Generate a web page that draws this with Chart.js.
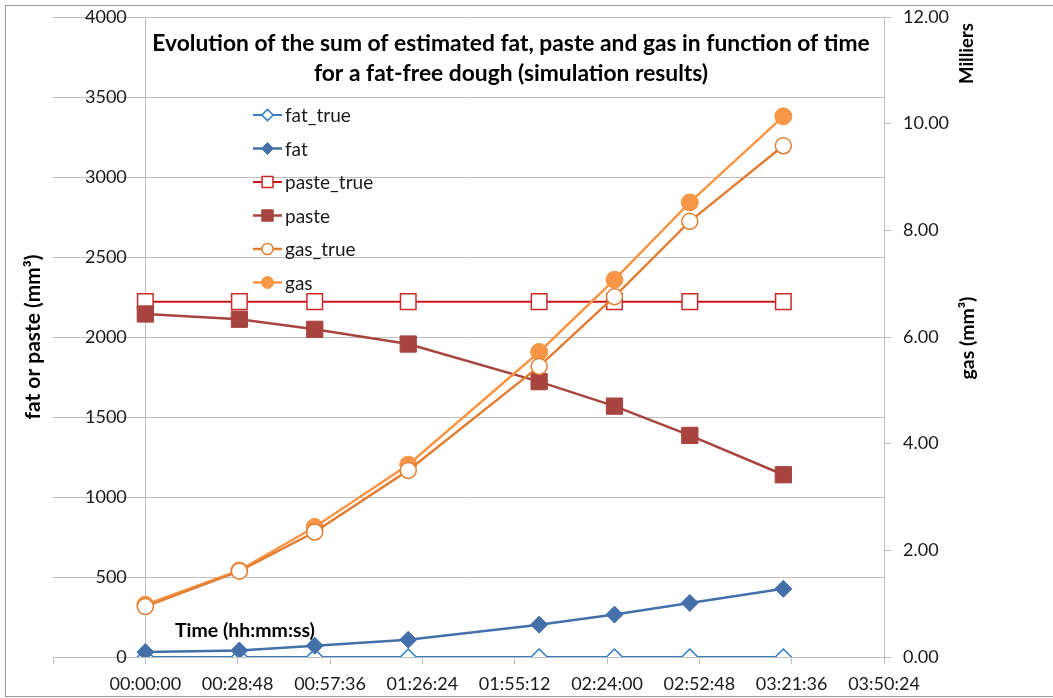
<!DOCTYPE html>
<html><head><meta charset="utf-8">
<script src="https://cdn.jsdelivr.net/npm/chart.js@4.4.1/dist/chart.umd.min.js"></script>
<style>
html,body{margin:0;padding:0;background:#fff;overflow:hidden}
#wrap{position:relative;width:1053px;height:698px}
#frame{position:absolute;left:5px;top:5px;width:1100px;height:690px;border-top:1px solid #9a9a9a;border-left:1px solid #9a9a9a;border-bottom:1px solid #9a9a9a;pointer-events:none}
</style></head><body>
<div id="wrap"><canvas id="c"></canvas><div id="frame"></div></div>
<script>
// ---- data (time in seconds) ----
const timeSeconds = [0, 1760, 3170, 4920, 7370, 8780, 10190, 11940];
const fatTrue   = [0, 0, 0, 0, 0, 0, 0, 0];
const fat       = [31, 41, 71, 108, 202, 265, 338, 426];
const pasteTrue = [2221, 2221, 2221, 2221, 2221, 2221, 2221, 2221];
const paste     = [2144, 2111, 2048, 1956, 1721, 1568, 1385, 1139];
const gasTrue   = [945, 1610, 2344, 3499, 5449, 6756, 8168, 9587];
const gas       = [981, 1624, 2438, 3606, 5719, 7075, 8524, 10137];
const seriesNames = ['fat_true', 'fat', 'paste_true', 'paste', 'gas_true', 'gas'];

// axes
const xMin = -1728, xMax = 13824, xStep = 1728;
const leftMin = 0, leftMax = 4000, leftStep = 500;
const rightMin = 0, rightMax = 12000, rightStep = 2000;

const titleLines = ['Evolution of the sum of estimated fat, paste and gas in function of time',
                    'for a fat-free dough (simulation results)'];
const leftTitle = 'fat or paste (mm\u00B3)';
const rightTitle = 'gas (mm\u00B3)';
const unitsLabel = 'Milliers';
const xTitle = 'Time (hh:mm:ss)';

function fmtTime(s){
  const h = Math.floor(s/3600), m = Math.floor((s%3600)/60), sec = Math.round(s%60);
  const p = n => String(n).padStart(2,'0');
  return p(h)+':'+p(m)+':'+p(sec);
}
const pts = arr => arr.map((v,i)=>({x: timeSeconds[i], y: v}));

const FONT = 'Lato';
const TXT = '#1a1a1a';
const GRID = '#bfbfbf';

const overlay = {
  id: 'overlay',
  afterDraw(chart){
    const ctx = chart.ctx;
    ctx.save();
    ctx.fillStyle = '#000';
    function sizeFor(text, target, weight){
      ctx.font = weight + ' 20px ' + FONT;
      return 20 * target / ctx.measureText(text).width;
    }
    // main title
    const ts = sizeFor(titleLines[0], 718, 'bold');
    ctx.font = 'bold ' + ts + 'px ' + FONT;
    ctx.textAlign = 'center'; ctx.textBaseline = 'alphabetic';
    ctx.fillText(titleLines[0], 511, 50.5);
    ctx.fillText(titleLines[1], 511, 81);
    // left axis title
    let s = sizeFor(leftTitle, 165, 'bold');
    ctx.font = 'bold ' + s + 'px ' + FONT;
    ctx.save(); ctx.translate(33, 337); ctx.rotate(-Math.PI/2);
    ctx.textBaseline = 'middle'; ctx.fillText(leftTitle, 0, 0); ctx.restore();
    // right axis title
    s = sizeFor(rightTitle, 83, 'bold');
    ctx.font = 'bold ' + s + 'px ' + FONT;
    ctx.save(); ctx.translate(968, 338); ctx.rotate(-Math.PI/2);
    ctx.textBaseline = 'middle'; ctx.fillText(rightTitle, 0, 0); ctx.restore();
    // units label
    s = sizeFor(unitsLabel, 61, 'bold');
    ctx.font = 'bold ' + s + 'px ' + FONT;
    ctx.save(); ctx.translate(967, 53.5); ctx.rotate(-Math.PI/2);
    ctx.textBaseline = 'middle'; ctx.fillText(unitsLabel, 0, 0); ctx.restore();
    // x title
    s = sizeFor(xTitle, 140, 'bold');
    ctx.font = 'bold ' + s + 'px ' + FONT;
    ctx.textAlign = 'left'; ctx.textBaseline = 'alphabetic';
    ctx.fillText(xTitle, 175, 637);
    // legend
    const ds = chart.data.datasets;
    ctx.font = '19px ' + FONT;
    ctx.textBaseline = 'middle';
    for (let i = 0; i < ds.length; i++){
      const d = ds[i];
      const y = 115 + i * 33.5;
      ctx.strokeStyle = d.borderColor; ctx.lineWidth = d.borderWidth;
      ctx.beginPath(); ctx.moveTo(253, y); ctx.lineTo(282, y); ctx.stroke();
      ctx.fillStyle = d.pointBackgroundColor; ctx.strokeStyle = d.pointBorderColor;
      ctx.lineWidth = d.pointBorderWidth;
      Chart.helpers.drawPoint(ctx, {pointStyle: d.pointStyle, radius: d.pointRadius * 0.7,
        rotation: 0, borderWidth: d.pointBorderWidth}, 267.5, y);
      ctx.fillStyle = TXT;
      ctx.textAlign = 'left';
      ctx.fillText(d.label, 285, y + 1);
    }
    ctx.restore();
  }
};

const cBlueL = '#3a7dc2', cBlue = '#4470aa', cRedL = '#c8161b', cRed = '#a8443f', cOrD = '#e07f35', cOr = '#f79646';

new Chart(document.getElementById('c'), {
  type: 'line',
  data: {
    datasets: [
      {label: seriesNames[0], data: pts(fatTrue), yAxisID:'y', order: 6, borderColor: cBlueL, borderWidth: 2,
       pointStyle:'rectRot', pointRadius: 8, pointBackgroundColor:'#fff', pointBorderColor: '#2f7cc4', pointBorderWidth: 1.5},
      {label: seriesNames[1], data: pts(fat), yAxisID:'y', order: 5, borderColor: cBlue, borderWidth: 2.5,
       pointStyle:'rectRot', pointRadius: 8.5, pointBackgroundColor: cBlue, pointBorderColor: cBlue, pointBorderWidth: 1},
      {label: seriesNames[2], data: pts(pasteTrue), yAxisID:'y', order: 4, borderColor: cRedL, borderWidth: 2,
       pointStyle:'rect', pointRadius: 11, pointBackgroundColor:'#fff', pointBorderColor: '#cc2a2a', pointBorderWidth: 1.5},
      {label: seriesNames[3], data: pts(paste), yAxisID:'y', order: 3, borderColor: cRed, borderWidth: 2.5,
       pointStyle:'rect', pointRadius: 11.5, pointBackgroundColor: cRed, pointBorderColor: cRed, pointBorderWidth: 1},
      {label: seriesNames[4], data: pts(gasTrue), yAxisID:'y1', order: 1, borderColor: cOrD, borderWidth: 2.5,
       pointStyle:'circle', pointRadius: 8, pointBackgroundColor:'#fff', pointBorderColor: cOrD, pointBorderWidth: 1.5},
      {label: seriesNames[5], data: pts(gas), yAxisID:'y1', order: 2, borderColor: cOr, borderWidth: 2.5,
       pointStyle:'circle', pointRadius: 8.5, pointBackgroundColor: cOr, pointBorderColor: cOr, pointBorderWidth: 1}
    ]
  },
  options: {
    responsive: true, maintainAspectRatio: false, animation: false,
    layout: {padding: {top: 17, left: 0, right: 0, bottom: 0}},
    elements: {line: {tension: 0}},
    plugins: {legend: {display: false}, tooltip: {enabled: false}, title: {display: false}},
    scales: {
      x: {type: 'linear', position: 'bottom', min: xMin, max: xMax,
          ticks: {stepSize: xStep, autoSkip: false, maxRotation: 0, padding: 9, color: TXT,
                  font: {family: FONT, size: 18},
                  callback: v => v < 0 ? '' : fmtTime(v)},
          grid: {color: c => (c.tick && c.tick.value === 0) ? GRID : 'rgba(0,0,0,0)', tickColor: GRID, tickLength: 7, lineWidth: 1},
          border: {display: true, color: GRID},
          afterFit(s){ s.height = 41; s.paddingLeft = 0; }},
      y: {position: 'left', min: leftMin, max: leftMax,
          ticks: {stepSize: leftStep, mirror: true, crossAlign: 'far', padding: 32, color: TXT,
                  font: {family: FONT, size: 18}, callback: v => String(v)},
          grid: {color: GRID, drawTicks: false, lineWidth: 1},
          border: {display: false},
          afterFit(s){ s.width = 53; s.paddingTop = 0; s.paddingBottom = 0; }},
      y1: {position: 'right', min: rightMin, max: rightMax,
          ticks: {stepSize: rightStep, padding: 12, color: TXT, font: {family: FONT, size: 18},
                  callback: v => (v/1000).toFixed(2)},
          grid: {drawOnChartArea: false, color: GRID, tickLength: 7},
          border: {display: true, color: GRID},
          afterFit(s){ s.width = 169; s.paddingTop = 0; s.paddingBottom = 0; }}
    }
  },
  plugins: [overlay]
});
</script>
</body></html>
